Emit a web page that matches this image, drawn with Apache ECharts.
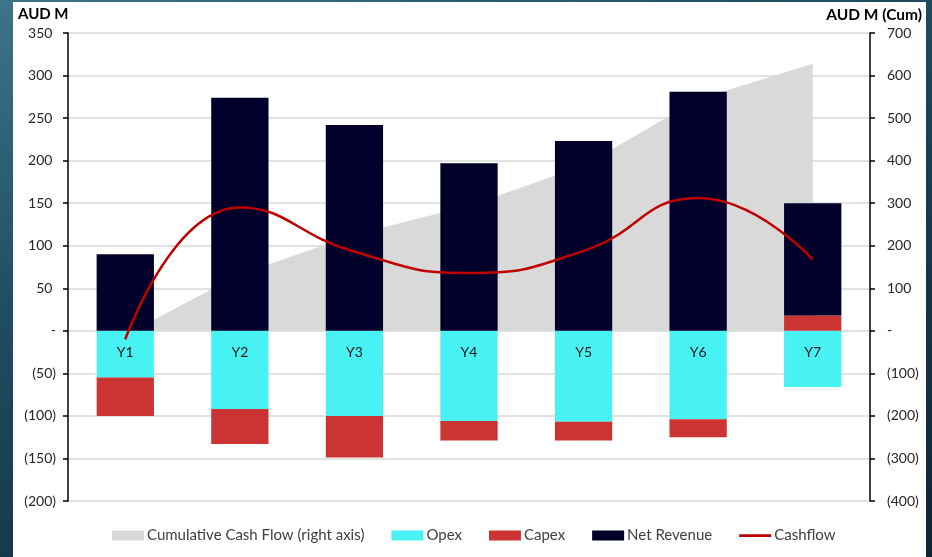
<!DOCTYPE html>
<html>
<head>
<meta charset="utf-8">
<script src="https://cdn.jsdelivr.net/npm/echarts@6/dist/echarts.min.js"></script>
<style>
  html, body { margin: 0; padding: 0; }
  body { width: 932px; height: 557px; overflow: hidden; position: relative;
         background: linear-gradient(160deg, #3d7488 0%, #1f4d60 35%, #143446 70%, #0d2533 100%); }
  #paper { position: absolute; left: 13px; top: 2px; width: 913px; height: 555px; background: #ffffff; }
  #chart { position: absolute; left: 0; top: 0; width: 932px; height: 557px; }
</style>
</head>
<body>
<div id="paper"></div>
<div id="chart"></div>
<script>
const categories = ['Y1', 'Y2', 'Y3', 'Y4', 'Y5', 'Y6', 'Y7'];
const opex = [-55, -92, -100, -106, -107, -104, -66];
const capex = [-45, -41, -49, -23, -22, -21, 18];
const netRevenue = [90, 274, 242, 197, 223, 281, 132];
const cashflow = [-10, 145, 93, 68, 94, 156, 84];
const cumulativeCashFlow = [-10, 133, 226, 294, 388, 544, 628];

const fmt = function (v) {
  if (v === 0) return '-';
  if (v < 0) return '(' + (-v) + ')';
  return v + ' ';
};

const chart = echarts.init(document.getElementById('chart'), null, { renderer: 'canvas' });
const font = 'Lato, "Liberation Sans", sans-serif';
const lineIcon = 'path://M0,0 L0.01,0 L0.01,0.01 Z M0,3.8 L32,3.8 L32,6.4 L0,6.4 Z M0,10 L0.01,10 L0.01,9.99 Z';
chart.setOption({
  backgroundColor: 'transparent',
  animation: false,
  textStyle: { fontFamily: font },
  grid: { left: 68, right: 62, top: 33, bottom: 56, containLabel: false },
  graphic: [
    { type: 'text', left: 18, top: 7, style: { text: 'AUD M', font: 'bold 15px ' + font, fill: '#000000' } },
    { type: 'text', right: 10, top: 7, style: { text: 'AUD M (Cum)', font: 'bold 15.5px ' + font, fill: '#000000' } }
  ],
  legend: {
    left: 112, top: 528, padding: 0, itemWidth: 32, itemHeight: 10, itemGap: 27,
    textStyle: { fontFamily: font, fontSize: 15, color: '#404040', padding: [0, 0, 0, -2] },
    data: [
      { name: 'Cumulative Cash Flow (right axis)', icon: 'rect' },
      { name: 'Opex', icon: 'rect' },
      { name: 'Capex', icon: 'rect' },
      { name: 'Net Revenue', icon: 'rect' },
      { name: 'Cashflow', icon: lineIcon }
    ]
  },
  xAxis: {
    type: 'category', data: categories, boundaryGap: true,
    axisLine: { show: false },
    axisTick: { show: false },
    axisLabel: { show: false }
  },
  yAxis: [
    {
      type: 'value', min: -200, max: 350, interval: 50,
      axisLine: { show: true, lineStyle: { color: '#000000', width: 1.5 } },
      axisTick: { show: true, length: 5, lineStyle: { color: '#000000', width: 1.5 } },
      axisLabel: { color: '#262626', fontSize: 14, margin: 12, formatter: fmt, fontFamily: font },
      splitLine: { show: true, lineStyle: { color: '#d9d9d9', width: 1.5 } }
    },
    {
      type: 'value', min: -400, max: 700, interval: 100,
      axisLine: { show: true, lineStyle: { color: '#000000', width: 1.5 } },
      axisTick: { show: true, length: 5, lineStyle: { color: '#000000', width: 1.5 } },
      axisLabel: { color: '#262626', fontSize: 14, margin: 17, formatter: fmt, fontFamily: font },
      splitLine: { show: false }
    }
  ],
  series: [
    {
      name: 'Cumulative Cash Flow (right axis)', type: 'line', yAxisIndex: 1, data: cumulativeCashFlow,
      symbol: 'none', lineStyle: { width: 0, color: '#d9d9d9' }, itemStyle: { color: '#d9d9d9' },
      areaStyle: { color: '#d9d9d9', opacity: 1 }, z: 1
    },
    {
      name: 'Opex', type: 'bar', stack: 'total', data: opex, barWidth: '50%',
      itemStyle: { color: '#48f2f2' }, z: 2,
      label: { show: true, position: 'insideTop', distance: 15, formatter: '{b}',
               color: '#1a1a1a', fontSize: 14, fontFamily: font }
    },
    {
      name: 'Capex', type: 'bar', stack: 'total', data: capex, barWidth: '50%',
      itemStyle: { color: '#cc3333' }, z: 2
    },
    {
      name: 'Net Revenue', type: 'bar', stack: 'total', data: netRevenue, barWidth: '50%',
      itemStyle: { color: '#00002a' }, z: 2
    },
    {
      name: 'Cashflow', type: 'line', data: cashflow, smooth: 0.5, symbol: 'none',
      lineStyle: { color: '#c00000', width: 2.5 }, itemStyle: { color: '#c00000' }, z: 6
    }
  ]
});
</script>
</body>
</html>
